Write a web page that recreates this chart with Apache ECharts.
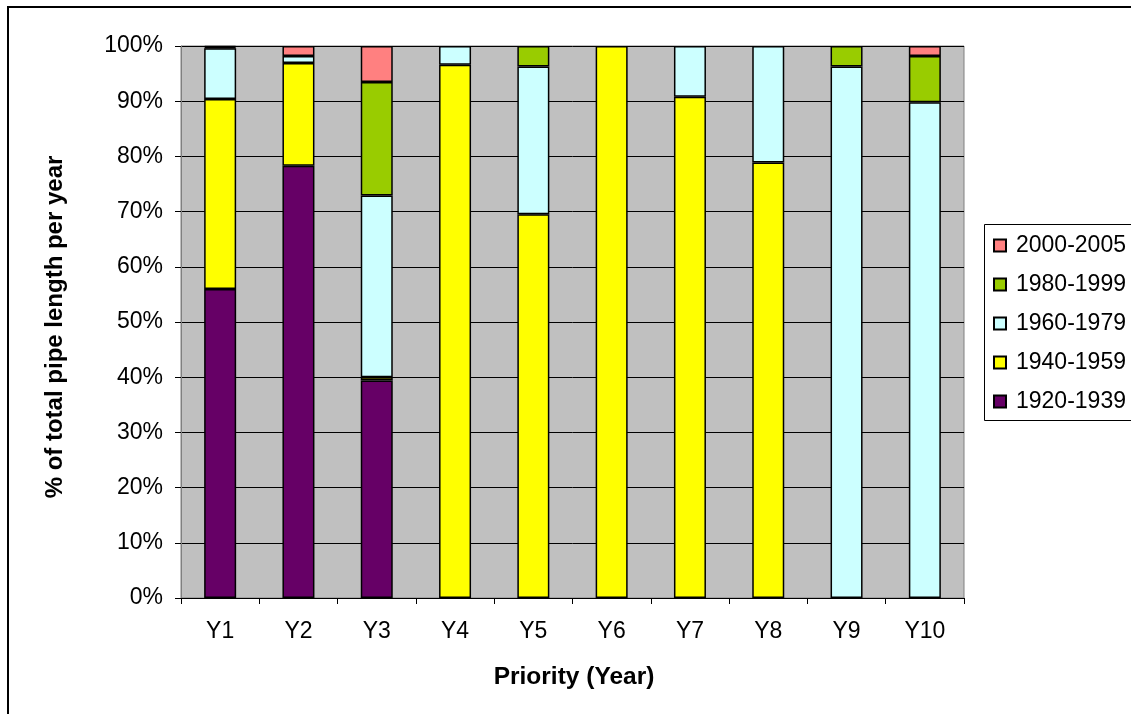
<!DOCTYPE html>
<html>
<head>
<meta charset="utf-8">
<style>
  html, body { margin: 0; padding: 0; background: #ffffff; }
  #chart { width: 1131px; height: 714px; }
</style>
<script src="https://cdn.jsdelivr.net/npm/echarts@6/dist/echarts.min.js"></script>
</head>
<body>
<div id="chart"></div>
<script>
// Priority years on the category axis
const categories = ['Y1', 'Y2', 'Y3', 'Y4', 'Y5', 'Y6', 'Y7', 'Y8', 'Y9', 'Y10'];

// Share (%) of total pipe length per year, by installation period
const p1920_1939 = [56.0, 78.3, 39.4, 0, 0, 0, 0, 0, 0, 0];
const p1940_1959 = [34.4, 18.6, 0.6, 96.6, 69.5, 100, 90.8, 78.9, 0, 0];
const p1960_1979 = [9.2, 1.3, 32.9, 3.4, 26.8, 0, 9.2, 21.1, 96.3, 89.8];
const p1980_1999 = [0.2, 0, 20.6, 0, 3.7, 0, 0, 0, 3.7, 8.4];
const p2000_2005 = [0.2, 1.8, 6.5, 0, 0, 0, 0, 0, 0, 1.8];

// Value axis ticks
const yTicks = [0, 10, 20, 30, 40, 50, 60, 70, 80, 90, 100];

const periods = [
  { name: '1920-1939', data: p1920_1939, color: '#660066' },
  { name: '1940-1959', data: p1940_1959, color: '#FFFF00' },
  { name: '1960-1979', data: p1960_1979, color: '#CCFFFF' },
  { name: '1980-1999', data: p1980_1999, color: '#99CC00' },
  { name: '2000-2005', data: p2000_2005, color: '#FF8080' }
];

const FONT = '"Liberation Sans", Arial, sans-serif';
const chart = echarts.init(document.getElementById('chart'), null, { renderer: 'canvas' });

const option = {
  animation: false,
  backgroundColor: '#ffffff',
  textStyle: { fontFamily: FONT },
  grid: {
    left: 181, top: 46, width: 783, height: 552,
    show: true,
    backgroundColor: '#C0C0C0',
    borderColor: '#808080',
    borderWidth: 1
  },
  legend: {
    orient: 'vertical',
    left: 993,
    top: 234,
    padding: 0,
    itemWidth: 12,
    itemHeight: 12,
    itemGap: 16,
    icon: 'rect',
    data: periods.map(p => p.name).reverse(),
    textStyle: {
      fontFamily: FONT, fontSize: 23, color: '#000000',
      lineHeight: 23, padding: [0, 0, 0, 5]
    }
  },
  xAxis: {
    type: 'category',
    data: categories,
    boundaryGap: true,
    axisLine: { show: true, lineStyle: { color: '#000000', width: 1 } },
    axisTick: { show: true, length: 6, alignWithLabel: false, lineStyle: { color: '#000000' } },
    axisLabel: { fontFamily: FONT, fontSize: 23, color: '#000000', margin: 22 },
    splitLine: { show: false }
  },
  yAxis: {
    type: 'value',
    min: yTicks[0],
    max: yTicks[yTicks.length - 1],
    interval: yTicks[1] - yTicks[0],
    axisLine: { show: true, lineStyle: { color: '#808080', width: 1 } },
    axisTick: { show: true, length: 6, inside: false, lineStyle: { color: '#000000' } },
    axisLabel: { fontFamily: FONT, fontSize: 23, color: '#000000', margin: 18, formatter: '{value}%' },
    splitLine: { show: true, lineStyle: { color: '#000000', width: 1 } }
  },
  series: periods.map(p => ({
    name: p.name,
    type: 'bar',
    stack: 'share',
    barWidth: 32,
    data: p.data.map(v => (v === 0 ? '-' : v)),
    itemStyle: { color: p.color, borderColor: '#000000', borderWidth: 1.5 },
    emphasis: { disabled: true }
  })),
  graphic: [
    // chart-area frame
    {
      type: 'rect', silent: true, z: 100,
      shape: { x: 8, y: 7, width: 1300, height: 900 },
      style: { fill: 'none', stroke: '#000000', lineWidth: 2 }
    },
    // legend frame
    {
      type: 'rect', silent: true, z: 0,
      shape: { x: 984.5, y: 224.5, width: 200, height: 196 },
      style: { fill: '#ffffff', stroke: '#000000', lineWidth: 1 }
    },
    // value axis title
    {
      type: 'text', silent: true,
      x: 55, y: 327, rotation: Math.PI / 2,
      style: {
        text: '% of total pipe length per year',
        font: 'bold 24px ' + FONT,
        fill: '#000000', align: 'center', verticalAlign: 'middle'
      }
    },
    // category axis title
    {
      type: 'text', silent: true,
      x: 574, y: 677,
      style: {
        text: 'Priority (Year)',
        font: 'bold 24.5px ' + FONT,
        fill: '#000000', align: 'center', verticalAlign: 'middle'
      }
    }
  ]
};

chart.setOption(option);
</script>
</body>
</html>
